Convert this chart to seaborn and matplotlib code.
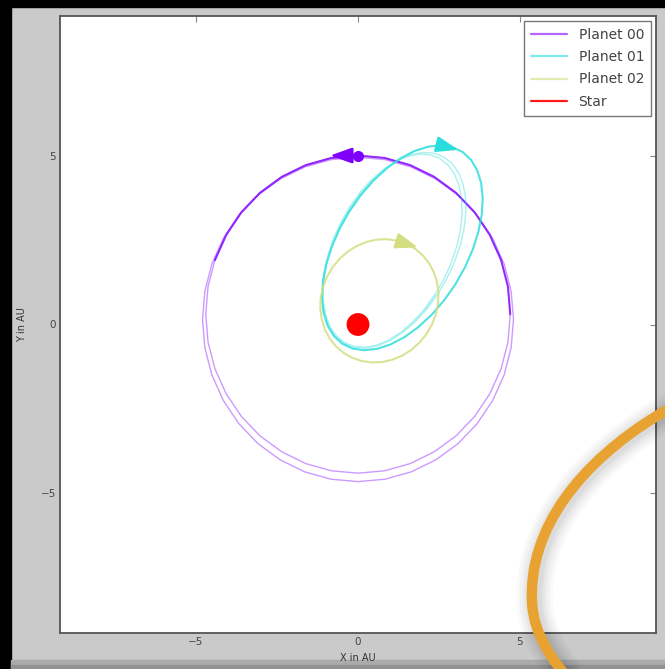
import matplotlib
matplotlib.use("Agg")
import matplotlib.pyplot as plt
import matplotlib.patheffects as pe
from matplotlib.lines import Line2D
from matplotlib.patches import Rectangle, PathPatch
from matplotlib.path import Path
import seaborn as sns

# Orbit trails (AU), in order of motion
planet00_x = [0.00, -0.835, -1.642, -2.40, -3.086, -3.677, -4.157, -4.512, -4.728, -4.80,
              -4.728, -4.512, -4.157, -3.677, -3.086, -2.40, -1.642, -0.835, 0.00,
              0.835, 1.642, 2.40, 3.086, 3.677, 4.157, 4.512, 4.728, 4.80,
              4.728, 4.512, 4.157, 3.677, 3.086, 2.40, 1.642, 0.835, 0.00,
              -0.818, -1.607, -2.35, -3.022, -3.60, -4.07, -4.418, -4.63, -4.70,
              -4.63, -4.418, -4.07, -3.60, -3.022, -2.35, -1.607, -0.818, 0.00,
              0.818, 1.607, 2.35, 3.022, 3.60, 4.07, 4.418, 4.63, 4.70,
              4.63, 4.418, 4.07, 3.60, 3.022, 2.35, 1.607, 0.818, 0.00,
              -0.818, -1.607, -2.35, -3.022, -3.60, -4.07, -4.418]
planet00_y = [4.95, 4.878, 4.662, 4.307, 3.827, 3.236, 2.55, 1.792, 0.985, 0.15,
              -0.685, -1.492, -2.25, -2.936, -3.527, -4.007, -4.362, -4.578, -4.65,
              -4.578, -4.362, -4.007, -3.527, -2.936, -2.25, -1.492, -0.685, 0.15,
              0.985, 1.792, 2.55, 3.236, 3.827, 4.307, 4.662, 4.878, 4.95,
              4.93, 4.718, 4.37, 3.90, 3.322, 2.65, 1.907, 1.118, 0.30,
              -0.518, -1.307, -2.05, -2.722, -3.30, -3.77, -4.118, -4.33, -4.40,
              -4.33, -4.118, -3.77, -3.30, -2.722, -2.05, -1.307, -0.518, 0.30,
              1.118, 1.907, 2.65, 3.322, 3.90, 4.37, 4.718, 4.93, 5.00,
              4.93, 4.718, 4.37, 3.90, 3.322, 2.65, 1.907]

planet01_x = [2.372, 2.056, 1.708, 1.341, 0.967, 0.595, 0.235, -0.097, -0.395,
              -0.649, -0.851, -0.995, -1.077, -1.093, -1.044, -0.932, -0.758, -0.529,
              -0.252, 0.064, 0.412, 0.779, 1.153, 1.525, 1.885, 2.217, 2.515,
              2.769, 2.971, 3.115, 3.197, 3.213, 3.164, 3.052, 2.878, 2.649,
              2.372, 2.056, 1.708, 1.341, 0.967, 0.595, 0.235, -0.097, -0.395,
              -0.655, -0.854, -0.993, -1.067, -1.076, -1.017, -0.893, -0.708, -0.466,
              -0.176, 0.153, 0.511, 0.890, 1.273, 1.653, 2.018, 2.355, 2.655,
              2.909, 3.108, 3.247, 3.321, 3.330, 3.271, 3.147, 2.962, 2.720,
              2.430, 2.101, 1.743, 1.364, 0.981, 0.601, 0.236, -0.101, -0.401,
              -0.748, -0.940, -1.062, -1.110, -1.083, -0.980, -0.807, -0.568, -0.269,
              0.080, 0.465, 0.882, 1.311, 1.742, 2.162, 2.558, 2.918, 3.231,
              3.488, 3.680, 3.802, 3.850, 3.823, 3.720, 3.547, 3.308, 3.009,
              2.660, 2.275, 1.858, 1.429, 0.998, 0.578, 0.182, -0.178, -0.491,
              -0.748, -0.940, -1.062, -1.110, -1.083, -0.980, -0.807, -0.568, -0.269,
              0.080, 0.465, 0.882, 1.311, 1.742, 2.162, 2.558]
planet01_y = [0.872, 0.450, 0.079, -0.227, -0.460, -0.613, -0.682, -0.663, -0.557,
              -0.369, -0.104, 0.233, 0.626, 1.067, 1.543, 2.038, 2.536, 3.025,
              3.488, 3.910, 4.281, 4.587, 4.820, 4.973, 5.042, 5.023, 4.917,
              4.729, 4.464, 4.127, 3.734, 3.293, 2.817, 2.322, 1.824, 1.335,
              0.872, 0.450, 0.079, -0.227, -0.460, -0.613, -0.682, -0.663, -0.557,
              -0.361, -0.089, 0.255, 0.657, 1.104, 1.587, 2.087, 2.590, 3.083,
              3.550, 3.973, 4.343, 4.648, 4.879, 5.029, 5.093, 5.069, 4.956,
              4.761, 4.489, 4.145, 3.743, 3.296, 2.813, 2.313, 1.810, 1.317,
              0.850, 0.427, 0.057, -0.248, -0.479, -0.629, -0.693, -0.669, -0.556,
              -0.334, -0.026, 0.354, 0.791, 1.272, 1.785, 2.312, 2.837, 3.346,
              3.823, 4.250, 4.619, 4.916, 5.133, 5.262, 5.302, 5.248, 5.104,
              4.874, 4.566, 4.186, 3.749, 3.268, 2.755, 2.228, 1.703, 1.194,
              0.717, 0.290, -0.079, -0.376, -0.593, -0.722, -0.762, -0.708, -0.564,
              -0.334, -0.026, 0.354, 0.791, 1.272, 1.785, 2.312, 2.837, 3.346,
              3.823, 4.250, 4.619, 4.916, 5.133, 5.262, 5.302]

planet02_x = [1.499, 1.768, 2.003, 2.198, 2.345, 2.442, 2.484, 2.472, 2.403, 2.282, 2.112, 1.897,
              1.644, 1.364, 1.059, 0.744, 0.426, 0.116, -0.179, -0.448, -0.683, -0.878, -1.025,
              -1.122, -1.164, -1.152, -1.083, -0.962, -0.792, -0.577, -0.324, -0.044, 0.261,
              0.576, 0.894, 1.204, 1.499]
planet02_y = [2.385, 2.238, 2.043, 1.808, 1.539, 1.244, 0.934, 0.616, 0.301, -0.004, -0.284, -0.537,
              -0.752, -0.922, -1.043, -1.112, -1.124, -1.082, -0.985, -0.838, -0.643, -0.408, -0.139,
              0.156, 0.466, 0.784, 1.099, 1.404, 1.684, 1.937, 2.152, 2.322, 2.443,
              2.512, 2.524, 2.482, 2.385]

# current positions and where the velocity arrows point
marker_x = [0.00, 2.558, 1.499]
marker_y = [5.00, 5.302, 2.385]
arrow_tip_x = [-0.86, 3.10, 1.85]
arrow_tip_y = [5.00, 5.17, 2.28]

star_x = [0.0]
star_y = [0.0]

labels = ["Planet 00", "Planet 01", "Planet 02", "Star"]
recent_points = [17, 37, 37]

# decorative swoosh over the screenshot, figure pixels (x right, y down)
swoosh_px = [(672, 407), (595, 450), (534, 515), (532, 590), (530, 625), (545, 650), (565, 675)]

W, H = 665, 669
colors = [plt.cm.rainbow(v) for v in (0.0, 1 / 3, 2 / 3, 1.0)]

sns.set_style("white")
plt.rcParams["font.family"] = ["DejaVu Sans"]

fig = plt.figure(figsize=(W / 100, H / 100), dpi=100, facecolor="#cacaca")

# dark frame of the screenshot
fig.add_artist(Rectangle((0, 0), 11 / W, 1, transform=fig.transFigure, color="black", zorder=0))
fig.add_artist(Rectangle((0, 1 - 7 / H), 1, 7 / H, transform=fig.transFigure, color="black", zorder=0))
fig.add_artist(Rectangle((11 / W, 0), 1, 9 / H, transform=fig.transFigure, color="#ababab", zorder=0))
fig.add_artist(Rectangle((11 / W, 0), 1, 4 / H, transform=fig.transFigure, color="#929292", zorder=0))

ax = fig.add_axes([60 / W, 1 - 633 / H, (656 - 60) / W, (633 - 16) / H])
ax.set_facecolor("white")

trails = [(planet00_x, planet00_y), (planet01_x, planet01_y), (planet02_x, planet02_y)]
for i, (xs, ys) in enumerate(trails):
    sns.lineplot(x=xs, y=ys, sort=False, estimator=None, color=colors[i], lw=1.0, alpha=0.4,
                 legend=False, ax=ax)
    n = recent_points[i]
    sns.lineplot(x=xs[-n:], y=ys[-n:], sort=False, estimator=None, color=colors[i], lw=1.5,
                 alpha=0.75, legend=False, ax=ax)
    ax.annotate("", xy=(arrow_tip_x[i], arrow_tip_y[i]), xytext=(marker_x[i], marker_y[i]),
                arrowprops=dict(arrowstyle="-|>,head_length=0.7,head_width=0.25", color=colors[i],
                                lw=1.8, mutation_scale=19, shrinkA=0, shrinkB=0))

ax.plot(marker_x[0], marker_y[0], "o", color=colors[0], ms=7)
sns.scatterplot(x=star_x, y=star_y, color=colors[3], s=270, edgecolor="none", zorder=5, ax=ax)

ax.set_xlim(-9.2, 9.2)
ax.set_ylim(-9.13, 9.13)
ax.set_xticks([-5, 0, 5])
ax.set_yticks([-5, 0, 5])
ax.tick_params(direction="in", length=4, width=0.8, color="#888888", labelsize=7.5,
               labelcolor="#444444", top=True, right=True, pad=3)
for s in ax.spines.values():
    s.set_color("#555555")
    s.set_linewidth(1.3)
ax.set_xlabel("X in AU", fontsize=7, color="#333333", labelpad=4)
ax.set_ylabel("Y in AU", fontsize=7, color="#333333", labelpad=10)

handles = [Line2D([], [], color=c, lw=1.6, alpha=0.6 if k < 3 else 0.9) for k, c in enumerate(colors)]
leg = ax.legend(handles, labels, loc="upper right", fontsize=10, frameon=True, fancybox=False,
                borderaxespad=0.35, labelspacing=0.6, handlelength=2.6, borderpad=0.5)
leg.get_frame().set_edgecolor("#555555")
leg.get_frame().set_linewidth(1.0)
for t in leg.get_texts():
    t.set_color("#444444")

# orange swoosh with a soft shadow
pts = [(x / W, 1 - y / H) for x, y in swoosh_px]
codes = [Path.MOVETO] + [Path.CURVE4] * 6
swoosh = PathPatch(Path(pts, codes), transform=fig.transFigure, facecolor="none",
                   edgecolor="#e8a232", lw=7.5, zorder=20, capstyle="butt")
swoosh.set_path_effects(
    [pe.Stroke(offset=(2, -1), linewidth=w, foreground="black", alpha=0.025) for w in (26, 22, 18, 15, 12, 10)]
    + [pe.Normal()]
)
fig.add_artist(swoosh)

fig.savefig("out.png", dpi=100, facecolor=fig.get_facecolor())
